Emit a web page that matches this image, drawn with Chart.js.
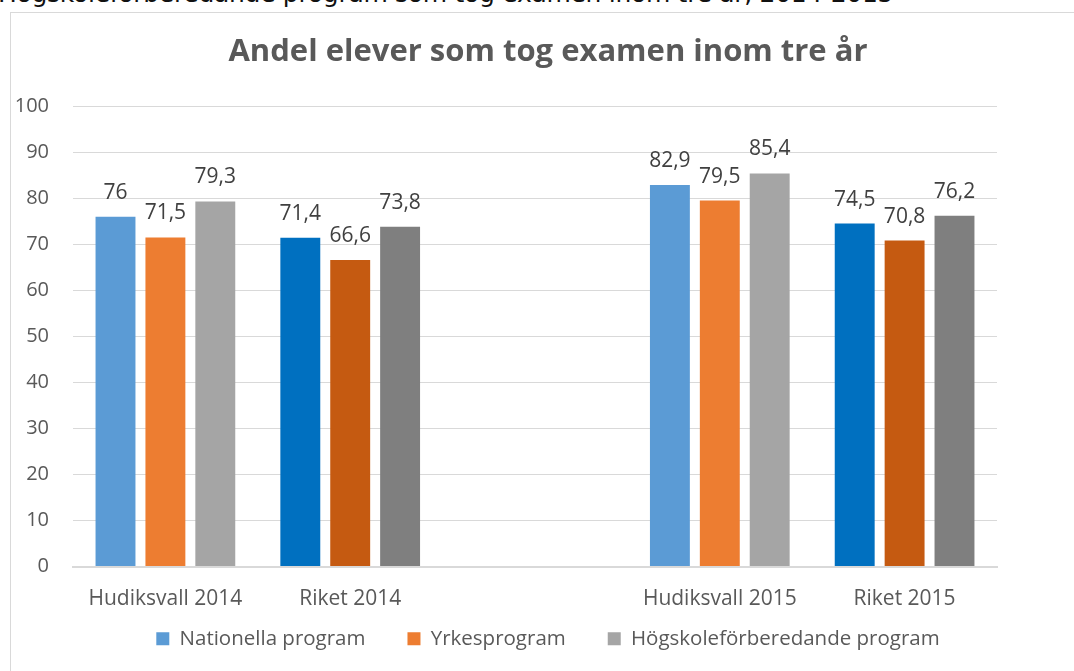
<!DOCTYPE html>
<html>
<head>
<meta charset="utf-8">
<script src="https://cdn.jsdelivr.net/npm/chart.js@4"></script>
<style>
  html, body { margin: 0; padding: 0; background: #fff; overflow: hidden; }
  body { width: 1074px; height: 671px; position: relative; }
  .ovan {
    position: absolute; left: -2px; top: -20px; white-space: nowrap;
    font-family: "DejaVu Sans", sans-serif; font-size: 25px; line-height: 28px;
    color: #111; letter-spacing: -0.3px;
  }
  .ram {
    position: absolute; left: 10px; top: 12px; width: 1080px; height: 680px;
    border: 1px solid #d9d9d9; box-sizing: border-box;
  }
  #wrap { position: absolute; left: 0; top: 0; width: 1074px; height: 671px; }
</style>
</head>
<body>
<div class="ovan">Högskoleförberedande program som tog examen inom tre år, 2014-2015</div>
<div class="ram"></div>
<div id="wrap"><canvas id="examen" width="1074" height="671"></canvas></div>
<script>
// kategorier (tom kolumn mellan åren)
const kategorier = ['Hudiksvall 2014', 'Riket 2014', '', 'Hudiksvall 2015', 'Riket 2015'];
const nationella = [76, 71.4, null, 82.9, 74.5];
const yrkes = [71.5, 66.6, null, 79.5, 70.8];
const hogskole = [79.3, 73.8, null, 85.4, 76.2];
const yTicks = [0, 10, 20, 30, 40, 50, 60, 70, 80, 90, 100];

// ljusa färger för Hudiksvall, mörkare för riket
const fargNat = ['#5B9BD5', '#0070C0', '#5B9BD5', '#5B9BD5', '#0070C0'];
const fargYrk = ['#ED7D31', '#C55A11', '#ED7D31', '#ED7D31', '#C55A11'];
const fargHog = ['#A5A5A5', '#7F7F7F', '#A5A5A5', '#A5A5A5', '#7F7F7F'];

const FONT = '"Open Sans", Lato, sans-serif';

// värden ovanför staplarna, decimalkomma
const stapelEtiketter = {
  id: 'stapelEtiketter',
  afterDatasetsDraw(chart) {
    const ctx = chart.ctx;
    ctx.save();
    ctx.font = '21px ' + FONT;
    ctx.fillStyle = '#404040';
    ctx.textAlign = 'center';
    ctx.textBaseline = 'alphabetic';
    chart.data.datasets.forEach((ds, i) => {
      chart.getDatasetMeta(i).data.forEach((bar, j) => {
        const v = ds.data[j];
        if (v == null) return;
        ctx.fillText(String(v).replace('.', ','), bar.x, bar.y - 18);
      });
    });
    ctx.restore();
  }
};

new Chart(document.getElementById('examen'), {
  type: 'bar',
  data: {
    labels: kategorier,
    datasets: [
      { label: 'Nationella program', data: nationella, backgroundColor: fargNat },
      { label: 'Yrkesprogram', data: yrkes, backgroundColor: fargYrk },
      { label: 'Högskoleförberedande program', data: hogskole, backgroundColor: fargHog }
    ]
  },
  options: {
    responsive: false,
    animation: false,
    devicePixelRatio: 1,
    datasets: { bar: { categoryPercentage: 0.81, barPercentage: 0.8 } },
    layout: { padding: { top: 14, right: 0, bottom: 12, left: 22 } },
    plugins: {
      title: {
        display: true,
        text: 'Andel elever som tog examen inom tre år',
        color: '#595959',
        font: { family: FONT, size: 31, weight: 'bold' },
        padding: { top: 20, bottom: 35 }
      },
      legend: {
        position: 'bottom',
        labels: {
          color: '#595959',
          font: { family: FONT, size: 20.5 },
          boxWidth: 13, boxHeight: 13,
          padding: 42,
          generateLabels(chart) {
            return chart.data.datasets.map((ds, i) => ({
              text: ds.label, fillStyle: ds.backgroundColor[0],
              strokeStyle: ds.backgroundColor[0], lineWidth: 0,
              datasetIndex: i, fontColor: '#595959'
            }));
          }
        }
      },
      tooltip: { enabled: false }
    },
    scales: {
      x: {
        grid: { display: false },
        border: { color: '#d9d9d9', width: 2 },
        ticks: { color: '#595959', font: { family: FONT, size: 21 }, padding: 12, maxRotation: 0 },
        // låg axelhöjd, etiketterna får gå in i legendens utfyllnad
        afterFit(scale) {
          scale.height = 20;
          scale._computeLabelArea = () => undefined;
        }
      },
      y: {
        min: 0, max: 100,
        afterBuildTicks(scale) { scale.ticks = yTicks.map(v => ({ value: v })); },
        afterFit(scale) {
          scale.width = 51;
          scale._computeLabelArea = () => undefined;
        },
        grid: { color: '#d9d9d9', drawTicks: false },
        border: { display: false },
        ticks: { color: '#595959', font: { family: FONT, size: 20 }, padding: 24 }
      },
      // tom axel till höger som ger marginal åt ritytan
      hoger: {
        position: 'right',
        display: true,
        grid: { display: false, drawTicks: false },
        border: { display: false },
        ticks: { display: false },
        afterFit(scale) { scale.width = 77; }
      }
    }
  },
  plugins: [stapelEtiketter]
});
</script>
</body>
</html>
